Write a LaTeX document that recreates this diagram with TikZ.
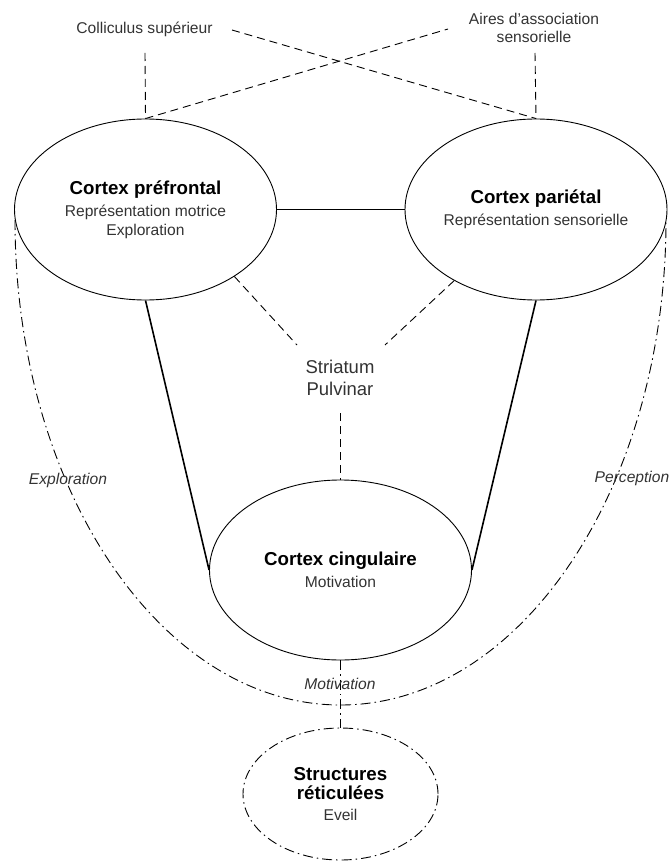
\documentclass[tikz,border=0pt]{standalone}
\usepackage{fontspec}
\setmainfont{Liberation Sans}
\usetikzlibrary{shapes.geometric}
\newcommand\myreg{\fontsize{15.6}{18.5}\selectfont}
\newcommand\mybold{\fontsize{18.7}{22}\selectfont\bfseries\color{black}}
\newcommand\mybig{\fontsize{18.5}{22}\selectfont}
\begin{document}
\begin{tikzpicture}[x=1pt,y=1pt,
  every node/.style={inner sep=0pt, text=black!80},
  ell/.style={draw=black, ellipse, line width=0.9pt, minimum width=262pt, minimum height=181pt, align=center, font=\myreg},
  solidline/.style={line width=1.6pt},
  dashline/.style={line width=0.9pt, dash pattern=on 8pt off 5pt},
  dashdotline/.style={line width=0.9pt, dash pattern=on 10pt off 4pt on 1.5pt off 4pt},
  lbl/.style={font=\myreg, align=center},
  ilbl/.style={font=\myreg\itshape}
]
\useasboundingbox (0,0) rectangle (670,-861);

% main ellipses
\node[ell] (pf) at (145.5,-209.5) {{\mybold Cortex préfrontal}\\[4pt]Représentation motrice\\Exploration};
\node[ell] (pa) at (536,-209.5) {{\mybold Cortex pariétal}\\[4pt]Représentation sensorielle};
\node[ell, minimum height=180pt] (cc) at (340.5,-570) {{\mybold Cortex cingulaire}\\[4pt]Motivation};
\node[ell, dashdotline, minimum width=195pt, minimum height=132pt] (rt) at (340.5,-794) {{\mybold Structures}\\[1pt]{\mybold réticulées}\\[2pt]Eveil};

% top labels
\node[lbl] (col) at (144.5,-29) {Colliculus supérieur};
\node[lbl] (aas) at (534,-28) {Aires d'association\\sensorielle};
\node[lbl, font=\mybig] (sp) at (340,-378) {Striatum\\Pulvinar};

% free ends
\coordinate (c1) at (145,-53);
\coordinate (c2) at (232,-30);
\coordinate (a1) at (448,-29);
\coordinate (a2) at (535,-53);
\coordinate (s1) at (297,-345);
\coordinate (s2) at (385,-345);
\coordinate (s3) at (340.5,-413);
\coordinate (arcL) at (15,-220);

% solid connectors
\draw[solidline] (pf.east) -- (pa.west);
\draw[solidline] (pf.south) -- (cc.west);
\draw[solidline] (pa.south) -- (cc.east);

% dashed connectors
\draw[dashline] (c1) -- (pf.north);
\draw[dashline] (a2) -- (pa.north);
\draw[dashline] (pf.north) -- (a1);
\draw[dashline] (c2) -- (pa.north);
\draw[dashline] (pf.-37.6) -- (s1);
\draw[dashline] (pa.221.8) -- (s2);
\draw[dashline] (s3) -- (cc.north);

% dash-dot arc and link
\draw[dashdotline] (arcL) arc[start angle=180, end angle=360, x radius=325.5, y radius=485];
\draw[dashdotline] (cc.south) -- (rt.north);

% italic labels
\node[ilbl] (lexp) at (68,-480) {Exploration};
\node[ilbl] (lper) at (632,-478) {Perception};
\node[ilbl] (lmot) at (340,-684) {Motivation};
\end{tikzpicture}
\end{document}
